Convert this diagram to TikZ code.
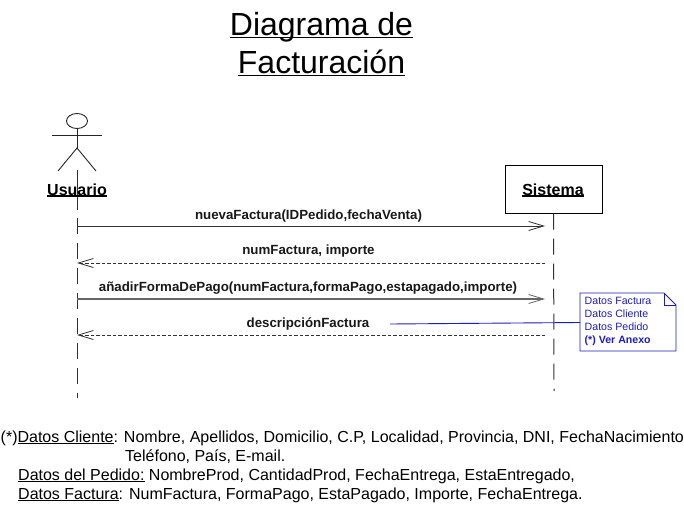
\documentclass[tikz,border=0pt]{standalone}
\usepackage{fontspec}
\setmainfont{Liberation Sans}
\usetikzlibrary{arrows.meta,shapes.geometric}
\definecolor{notecol}{RGB}{30,30,190}
\definecolor{lineg}{RGB}{50,50,50}
\newcommand{\fs}[1]{\fontsize{#1}{#1}\selectfont}
\newcommand{\ulx}[3]{\setbox0=\hbox{#3}\rlap{\box0}\setbox0=\hbox{#3}\rlap{\raisebox{-#1}{\rule{\wd0}{#2}}}\hspace*{\wd0}}
\tikzset{
  x=1pt,y=-1pt,
  title/.style={inner sep=0pt,anchor=base,font=\fs{32}},
  msg/.style={inner sep=0pt,anchor=base,font=\fs{13.3}\bfseries,text=black!90},
  hdr/.style={inner sep=0pt,anchor=base,font=\fs{16}\bfseries},
  foot/.style={inner sep=0pt,anchor=base west,font=\fs{16}},
  life/.style={draw=lineg,line width=1pt,dash pattern=on 16pt off 9pt},
  call/.style={draw=lineg,line width=1pt,-{Straight Barb[length=15pt,width=9pt,line width=.8pt]}},
  ret/.style={draw=lineg,line width=.9pt,dash pattern=on 3.5pt off 2pt,-{Straight Barb[length=15pt,width=9pt,line width=.8pt]}},
  limb/.style={draw=black!85,line width=.9pt},
}
\begin{document}
\begin{tikzpicture}
\useasboundingbox (0,0) rectangle (684,505);
\fill[white] (0,0) rectangle (684,505);
% title
\node[title] (t1) at (321.5,35.5) {\ulx{3pt}{1.4pt}{Diagrama de}};
\node[title] (t2) at (321.5,73.5) {\ulx{3pt}{1.4pt}{Facturación}};
% actor
\node[draw=black!85,line width=.9pt,ellipse,minimum width=21pt,minimum height=15pt,inner sep=0pt] (head) at (77,121) {};
\coordinate (hip) at (77,148);
\coordinate (armL) at (52,135);
\coordinate (armR) at (102,135);
\coordinate (legL) at (58,171);
\coordinate (legR) at (96,171);
\draw[limb] (head.south) -- (hip);
\draw[limb] (armL) -- (armR);
\draw[limb] (legL) -- (hip) -- (legR);
% lifelines
\coordinate (uTop) at (77,170);
\coordinate (uBot) at (77,398);
\coordinate (sBot) at (554,391);
\draw[life,dash pattern=on 40pt off 8pt on 16pt off 9pt on 16pt off 9pt on 16pt off 9pt on 16pt off 9pt on 16pt off 9pt on 16pt off 9pt on 16pt off 9pt on 16pt off 9pt on 16pt off 9pt] (uTop) -- (uBot);
\node[draw=black,line width=1pt,minimum width=97pt,minimum height=48pt,inner sep=0pt,fill=white] (sis) at (553.5,189) {};
\draw[life] (sis.south) -- (sBot);
\node[hdr] (uLbl) at (77,195) {\ulx{1.8pt}{1.6pt}{Usuario}};
\node[hdr] (sLbl) at (553,195) {\ulx{1.8pt}{1.6pt}{Sistema}};
% messages
\coordinate (u1) at (77,226); \coordinate (s1) at (545,226);
\coordinate (u2) at (77,263); \coordinate (s2) at (545,263);
\coordinate (u3) at (77,299); \coordinate (s3) at (545,299);
\coordinate (u4) at (77,335); \coordinate (s4) at (545,335);
\draw[call] (u1) -- (s1);
\draw[ret] (s2) -- (u2);
\draw[call,draw=black!60,line width=1.2pt] (u3) -- (s3);
\draw[ret] (s4) -- (u4);
\node[msg] (m1) at (308.5,219) {nuevaFactura(IDPedido,fechaVenta)};
\node[msg] (m2) at (308.5,254.5) {numFactura, importe};
\node[msg] (m3) at (308,291.5) {añadirFormaDePago(numFactura,formaPago,estapagado,importe)};
\node[msg] (m4) at (308,327) {descripciónFactura};
% note
\coordinate (nTL) at (580,293);
\coordinate (nFa) at (664,293);
\coordinate (nFb) at (676,305);
\coordinate (nBR) at (676,351);
\coordinate (nBL) at (580,351);
\coordinate (nFc) at (664,305);
\draw[notecol,line width=.9pt] (nTL) -- (nFa) -- (nFb) -- (nBR) -- (nBL) -- cycle;
\draw[notecol,line width=.9pt] (nFa) -- (nFc) -- (nFb);
\node[inner sep=0pt,anchor=north west,text=notecol,font=\fs{10.6},align=left] (note) at (584.5,297.5) {%
  Datos Factura\\[2.4pt]Datos Cliente\\[2.4pt]Datos Pedido\\[2.4pt]\textbf{(*) Ver Anexo}};
\coordinate (lnk) at (390,324);
\coordinate (lnkE) at (580,322.5);
\draw[notecol,line width=.9pt] (lnk) -- (lnkE);
% footer
\node[foot] (f1) at (0.5,442.5) {(*)\ulx{1.5pt}{.8pt}{Datos Cliente}: Nombre, Apellidos, Domicilio, C.P, Localidad, Provincia, DNI, FechaNacimiento};
\node[foot] (f2) at (125,461) {Teléfono, País, E-mail.};
\node[foot] (f3) at (18,480) {\ulx{1.5pt}{.8pt}{Datos del Pedido:} NombreProd, CantidadProd, FechaEntrega, EstaEntregado,};
\node[foot] (f4) at (18,499) {\ulx{1.5pt}{.8pt}{Datos Factura}: NumFactura, FormaPago, EstaPagado, Importe, FechaEntrega.};
\end{tikzpicture}
\end{document}
